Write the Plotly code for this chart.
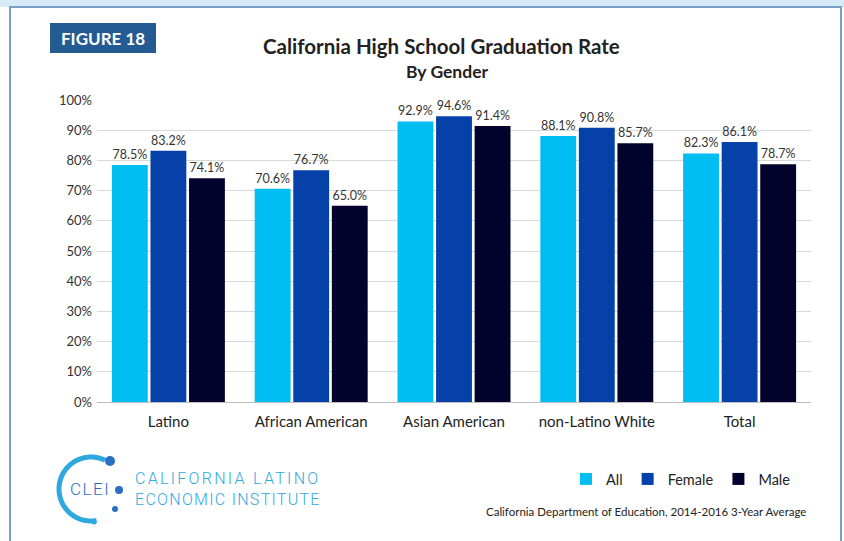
import numpy as np
import plotly.graph_objects as go

categories = ["Latino", "African American", "Asian American", "non-Latino White", "Total"]
all_vals = [78.5, 70.6, 92.9, 88.1, 82.3]
female_vals = [83.2, 76.7, 94.6, 90.8, 86.1]
male_vals = [74.1, 65.0, 91.4, 85.7, 78.7]
y_ticks = [0, 10, 20, 30, 40, 50, 60, 70, 80, 90, 100]

W, H = 844, 541
PL, PR, PT, PB = 97, 811, 100, 402

def px(x):
    return (x - PL) / (PR - PL)

def py(y):
    return (PB - y) / (PB - PT)

FONT = "Lato"
fig = go.Figure()
series = [("All", all_vals, "#00BEF2"), ("Female", female_vals, "#0541A8"), ("Male", male_vals, "#02022C")]
for name, vals, col in series:
    fig.add_trace(go.Bar(
        name=name, x=categories, y=vals, marker=dict(color=col, line=dict(width=0)),
        text=[f"{v:.1f}%" for v in vals], textposition="outside",
        textfont=dict(family=FONT, size=12.5, color="#333333"), cliponaxis=False,
    ))

shapes = []
# top light strip and frame
shapes.append(dict(type="rect", xref="paper", yref="paper", x0=px(0), x1=px(W), y0=py(0), y1=py(7),
                   fillcolor="#D7EAF7", line=dict(width=0), layer="below"))
shapes.append(dict(type="rect", xref="paper", yref="paper", x0=px(10), x1=px(841), y0=py(7), y1=py(560),
                   fillcolor="white", line=dict(color="#7C9DC8", width=2), layer="below"))
# figure label box
shapes.append(dict(type="rect", xref="paper", yref="paper", x0=px(50), x1=px(156), y0=py(23), y1=py(53),
                   fillcolor="#245B92", line=dict(width=0)))
# logo arc
cx, cy, r = 91, 489, 32
angs = np.linspace(np.deg2rad(64), np.deg2rad(360 - 80), 80)
pts = [(cx + r * np.cos(a), cy - r * np.sin(a)) for a in angs]
path = "M " + " L ".join(f"{px(x):.5f},{py(y):.5f}" for x, y in pts)
shapes.append(dict(type="path", xref="paper", yref="paper", path=path,
                   line=dict(color="#2FA8E0", width=5)))
for (dx, dy, dr, c) in [(110, 461, 5, "#2A6EC0"), (119, 490, 4, "#2A6EC0"), (115, 509, 3, "#2A6EC0"), (94, 522, 2.5, "#2FA8E0")]:
    shapes.append(dict(type="circle", xref="paper", yref="paper", x0=px(dx - dr), x1=px(dx + dr),
                       y0=py(dy + dr), y1=py(dy - dr), fillcolor=c, line=dict(width=0)))

annotations = [
    dict(text="<b>FIGURE 18</b>", x=px(103), y=py(38), xref="paper", yref="paper", showarrow=False,
         font=dict(family=FONT, size=17, color="white"), xanchor="center", yanchor="middle"),
    dict(text="<b>California High School Graduation Rate</b>", x=px(441), y=py(46), xref="paper", yref="paper",
         showarrow=False, font=dict(family=FONT, size=20.5, color="#222222"), xanchor="center", yanchor="middle"),
    dict(text="<b>By Gender</b>", x=px(447), y=py(71), xref="paper", yref="paper",
         showarrow=False, font=dict(family=FONT, size=17.5, color="#222222"), xanchor="center", yanchor="middle"),
    dict(text='<span style="letter-spacing:1.5px;font-weight:300">CLEI</span>', x=px(90), y=py(489),
         xref="paper", yref="paper", showarrow=False,
         font=dict(family="Roboto", size=17, color="#2A6EC0"), xanchor="center", yanchor="middle"),
    dict(text='<span style="letter-spacing:2.3px;font-weight:300">CALIFORNIA LATINO</span>', x=px(133),
         y=py(478), xref="paper", yref="paper", showarrow=False,
         font=dict(family="Roboto", size=16, color="#2FA8E0"), xanchor="left", yanchor="middle"),
    dict(text='<span style="letter-spacing:1.3px;font-weight:300">ECONOMIC INSTITUTE</span>', x=px(133),
         y=py(499), xref="paper", yref="paper", showarrow=False,
         font=dict(family="Roboto", size=16, color="#2FA8E0"), xanchor="left", yanchor="middle"),
    dict(text="California Department of Education, 2014-2016 3-Year Average", x=px(808), y=py(512),
         xref="paper", yref="paper", showarrow=False, font=dict(family=FONT, size=11.5, color="#222222"),
         xanchor="right", yanchor="middle"),
]

fig.update_layout(
    width=W, height=H, paper_bgcolor="white", plot_bgcolor="rgba(0,0,0,0)",
    margin=dict(l=PL, r=W - PR, t=PT, b=H - PB, autoexpand=False),
    barmode="group", bargap=0.19, bargroupgap=0.07,
    font=dict(family=FONT, color="#222222"),
    shapes=shapes, annotations=annotations,
    legend=dict(orientation="h", x=px(566), y=py(479), xanchor="left", yanchor="middle",
                font=dict(family=FONT, size=14.5, color="#222222"), bgcolor="rgba(0,0,0,0)",
                itemwidth=30, traceorder="normal"),
    showlegend=True,
)
fig.update_yaxes(range=[0, 100], tickvals=y_ticks, ticktext=[f"{t}%" for t in y_ticks],
                 showgrid=True, gridcolor="#D9D9D9", gridwidth=1, zeroline=False,
                 tickfont=dict(family=FONT, size=13, color="#333333"), ticks="", ticklabelstandoff=4)
fig.update_xaxes(showline=True, linecolor="#BFBFBF", linewidth=1, ticks="", ticklabelstandoff=6,
                 tickfont=dict(family=FONT, size=15, color="#222222"))

fig.write_html("out.html", config={"displayModeBar": False},
               post_script="document.body.style.margin='0';document.body.style.overflow='hidden';")
